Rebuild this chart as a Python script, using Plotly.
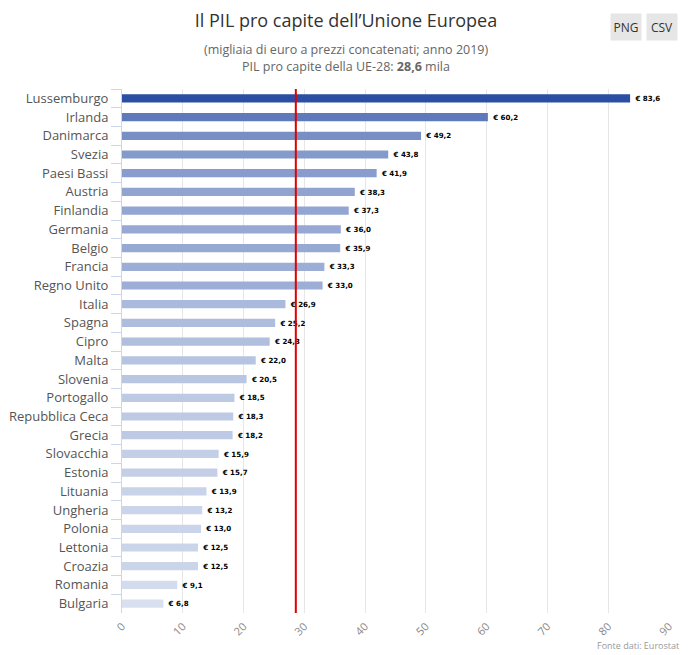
import plotly.graph_objects as go

countries = ["Lussemburgo", "Irlanda", "Danimarca", "Svezia", "Paesi Bassi", "Austria",
             "Finlandia", "Germania", "Belgio", "Francia", "Regno Unito", "Italia",
             "Spagna", "Cipro", "Malta", "Slovenia", "Portogallo", "Repubblica Ceca",
             "Grecia", "Slovacchia", "Estonia", "Lituania", "Ungheria", "Polonia",
             "Lettonia", "Croazia", "Romania", "Bulgaria"]
gdp = [83.6, 60.2, 49.2, 43.8, 41.9, 38.3, 37.3, 36.0, 35.9, 33.3, 33.0, 26.9,
       25.2, 24.3, 22.0, 20.5, 18.5, 18.3, 18.2, 15.9, 15.7, 13.9, 13.2, 13.0,
       12.5, 12.5, 9.1, 6.8]
eu_avg = 28.6
x_ticks = [0, 10, 20, 30, 40, 50, 60, 70, 80, 90]

OFF = 8  # page body margin offset
W, H = 699 - OFF, 655 - OFF
L, R, T, B = 122 - OFF, 30, 89 - OFF, 42

fig = go.Figure()
fig.add_trace(go.Bar(
    x=gdp, y=countries, orientation="h",
    marker=dict(color=gdp, colorscale=[[0, "#d8e0f0"], [1, "#2a4ea3"]],
                cmin=min(gdp), cmax=max(gdp), line=dict(width=0)),
    texttemplate="\u00a0<b>€ %{x:.1f}</b>", textposition="outside",
    textfont=dict(family="DejaVu Sans", size=9.5, color="#000000"),
    cliponaxis=False, hoverinfo="skip",
))

fig.add_shape(type="line", xref="x", yref="paper", x0=eu_avg, x1=eu_avg, y0=0, y1=1,
              line=dict(color="#e00000", width=2), layer="above")

pw = W - L - R
ph = H - T - B
def px(x): return (x - OFF - L) / pw
def py(y): return (H - B - (y - OFF)) / ph

anns = [
    dict(text="(migliaia di euro a prezzi concatenati; anno 2019)", x=px(346), y=py(50),
         font=dict(size=12.5, color="#666666")),
    dict(text="PIL pro capite della UE-28: <b>28,6</b> mila", x=px(346), y=py(66),
         font=dict(size=12.5, color="#666666")),
    dict(text="Fonte dati: Eurostat", x=px(681), y=py(645), xanchor="right",
         font=dict(size=9, color="#999999")),
    dict(text="PNG", x=px(626), y=py(27), bgcolor="#e6e6e6", width=26, height=22,
         font=dict(size=12, color="#333333"), borderpad=2),
    dict(text="CSV", x=px(662), y=py(27), bgcolor="#e6e6e6", width=26, height=22,
         font=dict(size=12, color="#333333"), borderpad=2),
]
for a in anns:
    a.setdefault("xanchor", "center")
    a.update(xref="paper", yref="paper", yanchor="middle", showarrow=False)
    fig.add_annotation(**a)

fig.update_layout(
    width=W, height=H,
    margin=dict(l=L, r=R, t=T, b=B, autoexpand=False),
    paper_bgcolor="white", plot_bgcolor="white",
    separators=",.",
    font=dict(family="Open Sans, DejaVu Sans, sans-serif"),
    title=dict(text="Il PIL pro capite dell’Unione Europea", x=(346 - OFF) / W, xanchor="center",
               y=1 - (21 - OFF) / H, yanchor="middle", font=dict(size=18, color="#333333")),
    bargap=0.56,
    showlegend=False,
    xaxis=dict(range=[0, 90], tickvals=x_ticks, ticktext=[str(v) for v in x_ticks],
               tickangle=-45, showgrid=True, gridcolor="#e6e6e6", gridwidth=1,
               zeroline=False, showline=False, ticks="", automargin=False,
               ticklabelstandoff=4,
               tickfont=dict(size=11, color="#888888"), fixedrange=True),
    yaxis=dict(categoryorder="array", categoryarray=countries, autorange="reversed",
               showline=True, linecolor="#ccd6eb", linewidth=1, automargin=False,
               ticks="outside", tickson="boundaries", ticklen=10, tickcolor="#ccd6eb",
               tickfont=dict(size=13, color="#555555"), showgrid=False,
               ticklabelstandoff=10),
)

fig.write_html("out.html")
